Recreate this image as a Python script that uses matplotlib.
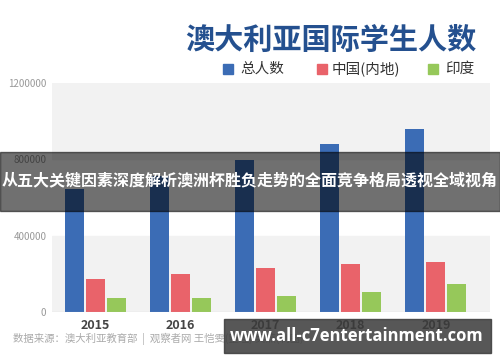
import numpy as np
import matplotlib
matplotlib.use("Agg")
import matplotlib.pyplot as plt
from matplotlib.patches import Rectangle

plt.rcParams['font.family'] = ['Noto Sans CJK SC', 'DejaVu Sans']

# data
years = ["2015", "2016", "2017", "2018", "2019"]
total = [645000, 713000, 798000, 878000, 958000]
china = [171000, 197000, 228000, 254000, 260000]
india = [72000, 75000, 86000, 106000, 145000]
series_names = ["总人数", "中国(内地)", "印度"]
colors = ["#3b6cb5", "#e9636a", "#96c85a"]
yticks = [0, 400000, 800000, 1200000]

W, H = 500, 362
fig = plt.figure(figsize=(W / 100, H / 100), dpi=100)
fig.patch.set_facecolor("white")


def px(x, y):
    # pixel coords (top-left origin) -> figure fraction
    return x / W, 1 - y / H


# axes: x 52..490, y 83..312
ax = fig.add_axes([52 / W, 1 - 312 / H, (490 - 52) / W, (312 - 83) / H])
ax.set_facecolor("white")
ax.set_ylim(0, 1200000)
ax.set_xlim(-0.511, 4.636)

# alternating background bands
ax.axhspan(0, 400000, color="#f2f2f2", zorder=0)
ax.axhspan(800000, 1200000, color="#f2f2f2", zorder=0)

x = np.arange(len(years))
w = 0.223
off = 0.247
for i, vals in enumerate([total, china, india]):
    ax.bar(x + (i - 1) * off, vals, width=w, color=colors[i], zorder=2)

for s in ax.spines.values():
    s.set_visible(False)
ax.axhline(0, color="#bbbbbb", lw=0.8, zorder=3)

ax.set_yticks(yticks)
ax.set_yticklabels([str(v) for v in yticks], color="#999999", fontsize=7)
ax.tick_params(axis="y", length=0, pad=4)
ax.set_xticks(x)
ax.set_xticklabels(years, fontsize=9, fontweight="bold", color="#444444")
ax.tick_params(axis="x", length=0, pad=5)

# title
fig.text(*px(476, 40), "澳大利亚国际学生人数", ha="right", va="center",
         fontsize=21, fontweight="black", color="#24508f")

# legend
leg_items = [(223, 240), (317, 332), (428, 445)]
for (sx, tx), name, c in zip(leg_items, series_names, colors):
    fig.patches.append(Rectangle(px(sx, 74), 10 / W, 10 / H, color=c,
                                 transform=fig.transFigure, figure=fig))
    fig.text(*px(tx, 69), name, ha="left", va="center", fontsize=10.5,
             color="#333333")

# source note
fig.text(*px(13, 339), "数据来源：澳大利亚教育部  |  观察者网 王恺雯(整理) 吴燕(制图)",
         ha="left", va="center", fontsize=7.5, color="#aaaaaa")

# overlay banner
fig.patches.append(Rectangle(px(0, 211), 1, 59 / H, color="#000000", alpha=0.56,
                             transform=fig.transFigure, figure=fig, zorder=10))
fig.text(*px(250, 180), "从五大关键因素深度解析澳洲杯胜负走势的全面竞争格局透视全域视角",
         ha="center", va="center", fontsize=11.5, fontweight="bold", color="white",
         zorder=11)

# watermark box
fig.patches.append(Rectangle(px(224, 353), 267 / W, 34 / H, color="#3a3a3a", alpha=0.85,
                             transform=fig.transFigure, figure=fig, zorder=10))
fig.text(*px(357, 336), "www.all-c7entertainment.com", ha="center", va="center",
         fontsize=12, fontweight="bold", color="white", zorder=11,
         family=["Open Sans", "DejaVu Sans"])

fig.savefig("out.png", dpi=100)
